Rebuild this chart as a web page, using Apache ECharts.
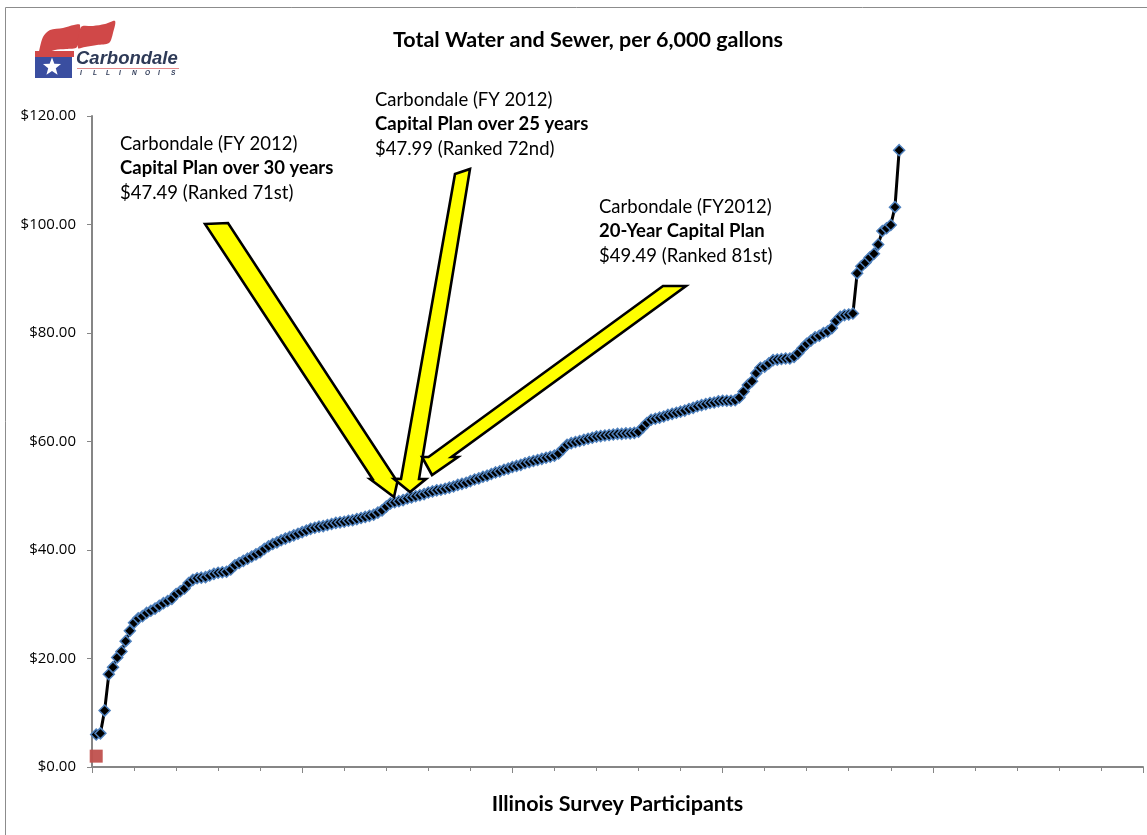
<!DOCTYPE html>
<html><head><meta charset="utf-8">
<script src="https://cdn.jsdelivr.net/npm/echarts@6/dist/echarts.min.js"></script>
<style>html,body{margin:0;padding:0;background:#fff}#c{width:1147px;height:835px}</style>
</head><body><div id="c"></div>
<script>
// Total water & sewer bill per 6,000 gallons, Illinois survey participants sorted ascending
const rateValues = [
  6.0, 6.2, 10.4, 17.1, 18.4, 20.2, 21.3, 23.2, 25.1, 26.6,
  27.4, 27.8, 28.4, 28.8, 29.2, 29.7, 30.2, 30.6, 31.0, 31.9,
  32.4, 32.9, 33.9, 34.5, 34.8, 34.9, 35.0, 35.3, 35.6, 35.8,
  35.9, 36.0, 36.4, 37.2, 37.6, 38.0, 38.4, 38.8, 39.2, 39.6,
  40.2, 40.7, 41.1, 41.4, 41.8, 42.1, 42.4, 42.7, 43.0, 43.3,
  43.6, 43.9, 44.1, 44.3, 44.4, 44.6, 44.8, 45.0, 45.1, 45.2,
  45.4, 45.5, 45.7, 45.9, 46.1, 46.3, 46.5, 46.9, 47.3, 48.0,
  48.6, 48.8, 49.0, 49.2, 49.5, 49.7, 49.9, 50.1, 50.3, 50.6,
  50.8, 51.0, 51.1, 51.3, 51.5, 51.7, 52.0, 52.2, 52.4, 52.7,
  53.0, 53.2, 53.5, 53.7, 54.0, 54.3, 54.5, 54.8, 55.0, 55.3,
  55.5, 55.7, 56.0, 56.2, 56.4, 56.6, 56.8, 57.0, 57.2, 57.4,
  57.8, 58.6, 59.4, 59.7, 59.9, 60.1, 60.3, 60.5, 60.7, 60.9,
  61.0, 61.1, 61.2, 61.3, 61.4, 61.4, 61.5, 61.5, 61.6, 61.8,
  62.6, 63.4, 64.0, 64.2, 64.4, 64.6, 64.9, 65.1, 65.3, 65.5,
  65.7, 66.0, 66.2, 66.5, 66.7, 66.9, 67.1, 67.2, 67.4, 67.5,
  67.5, 67.5, 67.6, 68.1, 69.2, 70.4, 71.1, 72.6, 73.6, 73.8,
  74.4, 75.0, 75.1, 75.2, 75.3, 75.3, 75.6, 76.3, 77.2, 78.0,
  78.6, 79.2, 79.5, 80.0, 80.3, 80.9, 82.2, 83.0, 83.3, 83.4,
  83.6, 91.0, 92.3, 93.0, 93.9, 94.6, 96.3, 98.8, 99.3, 99.9,
  103.2, 113.7
];
const redPoint = [[1, 2.0]];
const yAxisTicks = [0, 20, 40, 60, 80, 100, 120];
const xAxisTicks = [0, 50, 100, 150, 200, 250];
const titleText = 'Total Water and Sewer, per 6,000 gallons';
const xAxisTitle = 'Illinois Survey Participants';
const notes = [
  ['Carbondale (FY 2012)', 'Capital Plan over 30 years', '$47.49 (Ranked 71st)'],
  ['Carbondale (FY 2012)', 'Capital Plan over 25 years', '$47.99 (Ranked 72nd)'],
  ['Carbondale (FY2012)', '20-Year Capital Plan', '$49.49 (Ranked 81st)']
];

const FONT = 'Lato, "Open Sans", sans-serif';
const chart = echarts.init(document.getElementById('c'));

function arrowShape(tl, tr, b, hw, hh, tip) {
  return {
    type: 'polygon', z: 50,
    shape: { points: [tl, tr, [b[0] + hw, b[1]], [b[0] + hh, b[1]], tip, [b[0] - hh, b[1]], [b[0] - hw, b[1]]] },
    style: { fill: '#FFFF00', stroke: '#000', lineWidth: 2.6, lineJoin: 'miter' }
  };
}
const noteLayout = [[120, 144], [375, 100], [599, 207]];
const graphics = [];
graphics.push({ type: 'rect', z: 1, silent: true, shape: { x: 5.5, y: 7.5, width: 1150, height: 840 }, style: { fill: 'none', stroke: '#8c8c8c', lineWidth: 1 } });
graphics.push(arrowShape([205, 224], [228, 223], [384, 479], 11.5, 14, [394, 497]));
graphics.push(arrowShape([455, 174], [470, 169], [410, 479], 9, 16, [410, 492]));
graphics.push(arrowShape([663, 286], [686, 286], [440, 457], 11.5, 18, [432, 475]));
notes.forEach((lines, i) => {
  const [x, y] = noteLayout[i];
  lines.forEach((t, j) => {
    graphics.push({ type: 'text', z: 60, style: { text: t, x: x, y: y + j * 24.5, fill: '#000',
      font: (j === 1 ? 'bold ' : '') + '18.5px ' + FONT, verticalAlign: 'middle', textVerticalAlign: 'middle' } });
  });
});
// logo
graphics.push({ type: 'polygon', z: 20, shape: { smooth: 0.3, points: [[38, 56], [43, 37], [50, 30], [63, 28], [74, 25], [80, 25], [77, 47], [66, 49], [55, 50], [38, 56]] }, style: { fill: '#d04848' } });
graphics.push({ type: 'polygon', z: 20, shape: { smooth: 0.3, points: [[81, 27], [93, 26], [105, 24], [115, 21], [113, 33], [109, 43], [97, 45], [85, 47], [78, 48]] }, style: { fill: '#d04848' } });
graphics.push({ type: 'rect', z: 21, shape: { x: 35, y: 56, width: 37, height: 22 }, style: { fill: '#3a4ea0' } });
graphics.push({ type: 'rect', z: 21, shape: { x: 35, y: 51, width: 39, height: 6 }, style: { fill: '#d04848' } });
(function () {
  const cx = 52, cy = 67, R = 9.5, r = 4, pts = [];
  for (let k = 0; k < 10; k++) {
    const a = -Math.PI / 2 + k * Math.PI / 5, rr = k % 2 ? r : R;
    pts.push([cx + rr * Math.cos(a), cy + rr * Math.sin(a)]);
  }
  graphics.push({ type: 'polygon', z: 22, shape: { points: pts }, style: { fill: '#fff' } });
})();
graphics.push({ type: 'text', z: 22, style: { text: 'Carbondale', x: 76, y: 59, fill: '#2e3a57',
  font: 'italic bold 18.5px "Liberation Sans", Arial, sans-serif', verticalAlign: 'middle', textVerticalAlign: 'middle' } });
graphics.push({ type: 'line', z: 22, shape: { x1: 77, y1: 68.5, x2: 179, y2: 68.5 }, style: { stroke: '#e58a8a', lineWidth: 1 } });
'ILLINOIS'.split('').forEach((ch, k) => {
  graphics.push({ type: 'text', z: 22, style: { text: ch, x: 80 + k * 13, y: 73.5, fill: '#2e3a57',
    font: 'italic bold 6.5px "Liberation Sans", sans-serif', verticalAlign: 'middle', textVerticalAlign: 'middle' } });
});

chart.setOption({
  animation: false,
  backgroundColor: '#fff',
  title: { text: titleText, left: 583, top: 24, textAlign: 'center',
    textStyle: { fontFamily: FONT, fontWeight: 'bold', fontSize: 21.5, color: '#000' } },
  grid: { left: 92, right: 4, top: 116, bottom: 68, containLabel: false },
  xAxis: {
    type: 'value', min: xAxisTicks[0], max: xAxisTicks[xAxisTicks.length - 1], interval: 50,
    name: xAxisTitle, nameLocation: 'middle', nameGap: 26,
    nameTextStyle: { fontFamily: FONT, fontWeight: 'bold', fontSize: 21.5, color: '#000' },
    axisLine: { show: true, onZero: false, lineStyle: { color: '#868686', width: 2 } },
    axisTick: { show: true, length: 6, lineStyle: { color: '#868686', width: 1 } },
    minorTick: { show: true, splitNumber: 5, length: 4, lineStyle: { color: '#868686', width: 1 } },
    axisLabel: { show: false },
    splitLine: { show: false }
  },
  yAxis: {
    type: 'value', min: yAxisTicks[0], max: yAxisTicks[yAxisTicks.length - 1], interval: 20,
    axisLine: { show: true, lineStyle: { color: '#868686', width: 2 } },
    axisTick: { show: true, length: 5, lineStyle: { color: '#868686', width: 1 } },
    axisLabel: { margin: 16, fontFamily: '"Open Sans", Lato, sans-serif', fontSize: 15, color: '#000',
      formatter: v => '$' + v.toFixed(2) },
    splitLine: { show: false }
  },
  series: [
    {
      type: 'line', z: 5,
      data: rateValues.map((v, i) => [i + 1, v]),
      symbol: 'diamond', symbolSize: 11, showSymbol: true,
      lineStyle: { color: '#000', width: 3 },
      itemStyle: { color: '#000', borderColor: '#4f81bd', borderWidth: 1.5 }
    },
    {
      type: 'scatter', z: 6, data: redPoint, symbol: 'rect', symbolSize: 13,
      itemStyle: { color: '#c0504d', opacity: 0.95 }
    }
  ],
  graphic: graphics
});
</script></body></html>
